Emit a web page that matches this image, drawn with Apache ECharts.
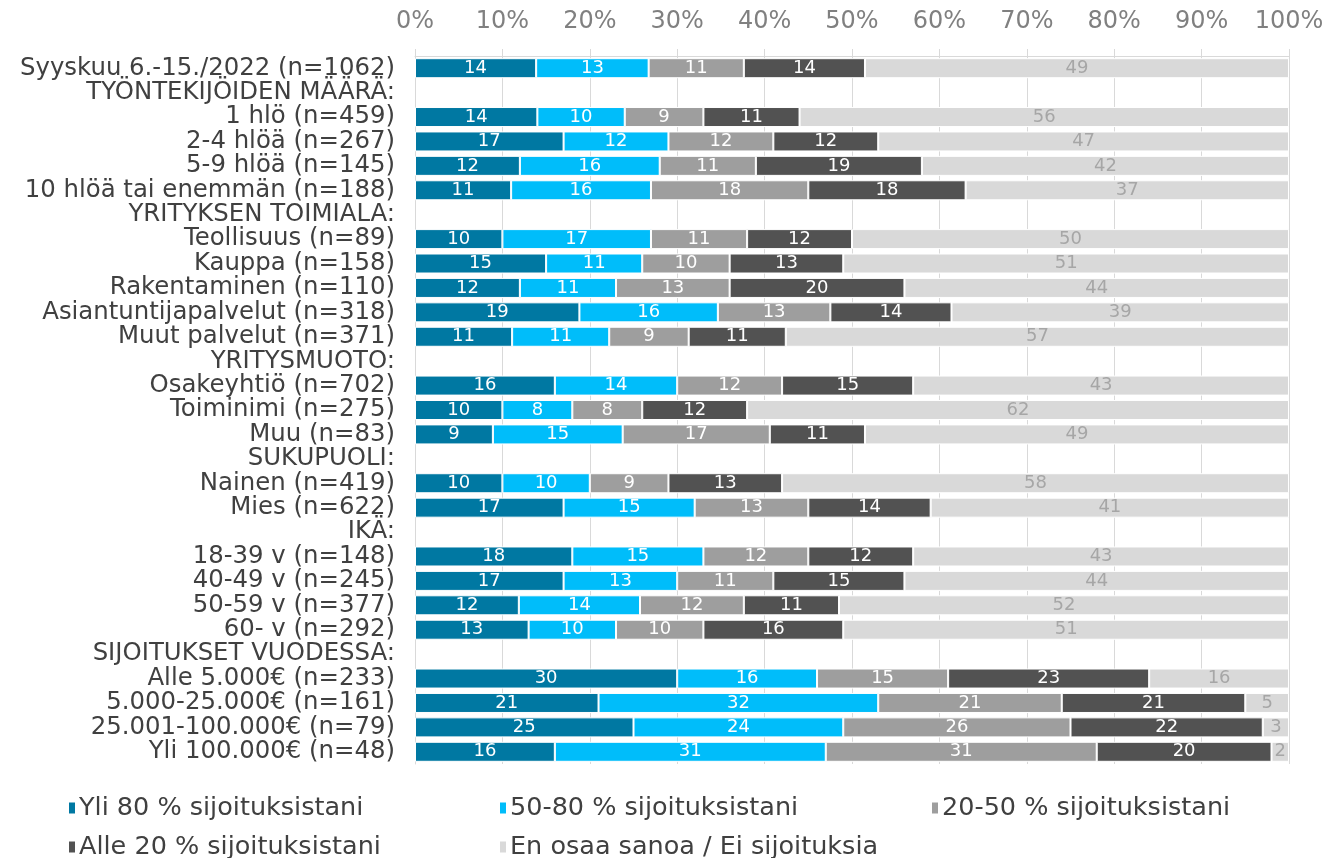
<!DOCTYPE html>
<html><head><meta charset="utf-8">
<script src="https://cdn.jsdelivr.net/npm/echarts@6/dist/echarts.min.js"></script>
<style>html,body{margin:0;padding:0;background:#fff}#c{width:1332px;height:858px}</style>
</head><body><div id="c"></div>
<script>
const categories = ["Syyskuu 6.-15./2022 (n=1062)","TYÖNTEKIJÖIDEN MÄÄRÄ:","1 hlö (n=459)","2-4 hlöä (n=267)","5-9 hlöä (n=145)","10 hlöä tai enemmän (n=188)","YRITYKSEN TOIMIALA:","Teollisuus (n=89)","Kauppa (n=158)","Rakentaminen (n=110)","Asiantuntijapalvelut (n=318)","Muut palvelut (n=371)","YRITYSMUOTO:","Osakeyhtiö (n=702)","Toiminimi (n=275)","Muu (n=83)","SUKUPUOLI:","Nainen (n=419)","Mies (n=622)","IKÄ:","18-39 v (n=148)","40-49 v (n=245)","50-59 v (n=377)","60- v (n=292)","SIJOITUKSET VUODESSA:","Alle 5.000€ (n=233)","5.000-25.000€ (n=161)","25.001-100.000€ (n=79)","Yli 100.000€ (n=48)"];
const seriesNames = ["Yli 80 % sijoituksistani","50-80 % sijoituksistani","20-50 % sijoituksistani","Alle 20 % sijoituksistani","En osaa sanoa / Ei sijoituksia"];
const yli80  = [14,null,14,17,12,11,null,10,15,12,19,11,null,16,10,9,null,10,17,null,18,17,12,13,null,30,21,25,16];
const v50_80 = [13,null,10,12,16,16,null,17,11,11,16,11,null,14,8,15,null,10,15,null,15,13,14,10,null,16,32,24,31];
const v20_50 = [11,null,9,12,11,18,null,11,10,13,13,9,null,12,8,17,null,9,13,null,12,11,12,10,null,15,21,26,31];
const alle20 = [14,null,11,12,19,18,null,12,13,20,14,11,null,15,12,11,null,13,14,null,12,15,11,16,null,23,21,22,20];
const enOsaa = [49,null,56,47,42,37,null,50,51,44,39,57,null,43,62,49,null,58,41,null,43,44,52,51,null,16,5,3,2];
const xTicks = [0,10,20,30,40,50,60,70,80,90,100];

const all = [yli80, v50_80, v20_50, alle20, enOsaa];
const colors = ['#0078A2','#00BDFA','#9E9E9E','#525252','#D9D9D9'];
const labelColors = ['#fff','#fff','#fff','#fff','#A6A6A6'];
const totals = categories.map((c,i)=> all.reduce((s,a)=>s+(a[i]||0),0));
const FONT = 'DejaVu Sans';

const series = all.map((arr,k)=>({
  name: seriesNames[k], type:'bar', stack:'t', barWidth:'82%',
  itemStyle:{color:colors[k], borderColor:'#fff', borderWidth:1},
  label:{show:true, position:'inside', color:labelColors[k], fontFamily:FONT, fontSize:18,
    formatter:p=>arr[p.dataIndex]},
  data: arr.map((v,i)=> v==null ? null : v/totals[i]*100)
}));

const legendPos = [[62,790],[493,790],[925,790],[62,829],[493,829]];
const legends = seriesNames.map((n,k)=>({
  data:[n], left:legendPos[k][0], top:legendPos[k][1], itemWidth:8, itemHeight:13, itemGap:0,
  icon:'rect', textStyle:{fontFamily:FONT, fontSize:25.5, color:'#404040', padding:[0,0,0,-2]}
}));

const chart = echarts.init(document.getElementById('c'));
chart.setOption({
  animation:false,
  grid:{left:415, right:43, top:56, bottom:94},
  legend: legends,
  xAxis:{type:'value', position:'top', min:0, max:100, interval:10,
    axisLabel:{formatter:v=> xTicks.includes(v)? v+'%':'', color:'#808080', fontFamily:FONT, fontSize:24, margin:22},
    axisLine:{show:true, lineStyle:{color:'#D9D9D9'}},
    axisTick:{show:true, length:7, lineStyle:{color:'#D9D9D9'}},
    splitLine:{show:true, lineStyle:{color:'#D9D9D9'}}},
  yAxis:{type:'category', inverse:true, data:categories,
    axisLine:{show:true, lineStyle:{color:'#D9D9D9'}}, axisTick:{show:false},
    axisLabel:{interval:0, color:'#404040', fontFamily:FONT, fontSize:24.4, margin:20}},
  series
});
</script></body></html>
